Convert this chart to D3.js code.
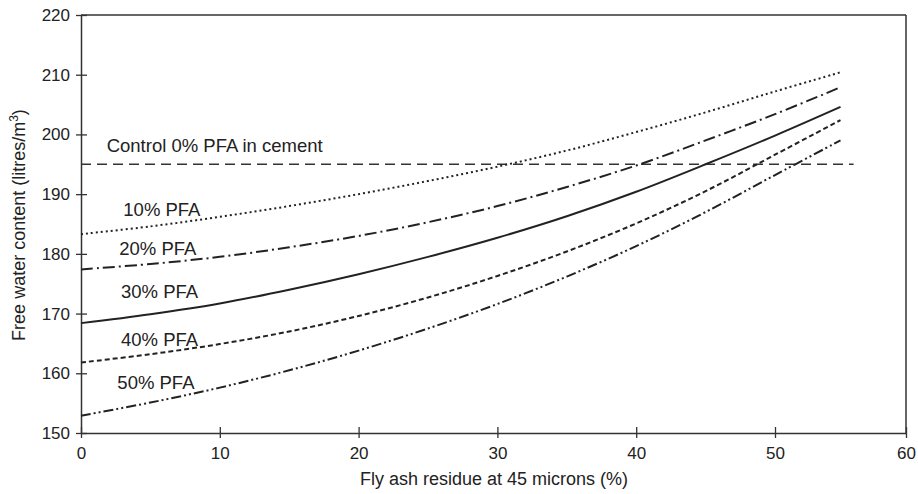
<!DOCTYPE html>
<html>
<head>
<meta charset="utf-8">
<script src="https://cdn.jsdelivr.net/npm/d3@7/dist/d3.min.js"></script>
<style>
  html, body { margin: 0; padding: 0; background: #fff; }
  svg { display: block; }
  text { font-family: "Liberation Sans", Arial, Helvetica, sans-serif; fill: #222; }
</style>
</head>
<body>
<svg id="chart" width="918" height="494"></svg>
<script>
// ---- data ----
const residue = [0, 5, 10, 15, 20, 25, 30, 35, 40, 45, 50, 55];
const pfa10 = [183.3, 184.6, 186.2, 188.0, 190.0, 192.2, 194.6, 197.3, 200.4, 203.7, 207.2, 210.4];
const pfa20 = [177.4, 178.3, 179.5, 181.1, 183.0, 185.3, 188.0, 191.2, 194.8, 199.0, 203.4, 207.9];
const pfa30 = [168.4, 169.9, 171.7, 174.0, 176.6, 179.5, 182.7, 186.3, 190.4, 195.0, 199.8, 204.6];
const pfa40 = [161.8, 163.2, 164.9, 167.0, 169.6, 172.7, 176.3, 180.4, 185.1, 190.5, 196.6, 202.4];
const pfa50 = [152.9, 155.1, 157.6, 160.5, 163.8, 167.5, 171.6, 176.2, 181.3, 187.0, 193.2, 199.0];
const seriesNames = ["10% PFA", "20% PFA", "30% PFA", "40% PFA", "50% PFA"];
const controlValue = 195;
const controlExtent = [0, 56];
const controlLabel = "Control 0% PFA in cement";
const xTicks = [0, 10, 20, 30, 40, 50, 60];
const yTicks = [150, 160, 170, 180, 190, 200, 210, 220];
const xTitle = "Fly ash residue at 45 microns (%)";
const yTitle = "Free water content (litres/m";

// ---- layout / styles ----
const svg = d3.select("#chart");
const mLeft = 81, mRight = 906, mTop = 15, mBottom = 433;
const ink = "#222";

const x = d3.scaleLinear().domain([0, 50, 60]).range([mLeft, 775, mRight]);
const y = d3.scaleLinear().domain([150, 220]).range([mBottom, mTop]);

const dashes = ["2,3", "12,4,2,4", null, "5,3", "10,3,2,3,2,3"];
// label anchors in data units [x, y-baseline]
const labelPos = [[3.05, 186.3], [2.76, 179.8], [2.88, 172.55], [2.88, 164.5], [2.62, 157.45]];

// frame (top & right)
svg.append("line").attr("x1", mLeft).attr("x2", mRight).attr("y1", mTop).attr("y2", mTop)
  .attr("stroke", "#333").attr("stroke-width", 1.5);
svg.append("line").attr("x1", mRight).attr("x2", mRight).attr("y1", mTop).attr("y2", mBottom)
  .attr("stroke", "#333").attr("stroke-width", 1.5);

// axes
const xAxis = d3.axisBottom(x).tickValues(xTicks).tickSizeInner(5).tickSizeOuter(0).tickPadding(9).tickFormat(d3.format("d"));
const gx = svg.append("g").attr("transform", `translate(0,${mBottom})`).call(xAxis);
gx.selectAll(".tick line").attr("y1", -6).attr("stroke", "#333").attr("stroke-width", 1.3);
gx.select(".domain").attr("stroke", "#333").attr("stroke-width", 1.5);
gx.selectAll("text").style("font-size", "17px").attr("fill", ink);

const yAxis = d3.axisLeft(y).tickValues(yTicks).tickSizeInner(5).tickSizeOuter(0).tickPadding(6).tickFormat(d3.format("d"));
const gy = svg.append("g").attr("transform", `translate(${mLeft},0)`).call(yAxis);
gy.selectAll(".tick line").attr("x1", 6).attr("stroke", "#333").attr("stroke-width", 1.3);
gy.select(".domain").attr("stroke", "#333").attr("stroke-width", 1.5);
gy.selectAll("text").style("font-size", "17px").attr("fill", ink);
gx.attr("font-family", null); gy.attr("font-family", null);

// control line
svg.append("line")
  .attr("x1", x(controlExtent[0])).attr("x2", x(controlExtent[1]))
  .attr("y1", y(controlValue)).attr("y2", y(controlValue))
  .attr("stroke", "#333").attr("stroke-width", 1.5).attr("stroke-dasharray", "10,6");
svg.append("text").attr("x", x(1.85)).attr("y", y(197.0))
  .style("font-size", "18.5px").text(controlLabel);

// curves
const allSeries = [pfa10, pfa20, pfa30, pfa40, pfa50];
const line = d3.line().x(d => x(d[0])).y(d => y(d[1])).curve(d3.curveCatmullRom.alpha(0.5));
allSeries.forEach((vals, i) => {
  const pts = residue.map((r, j) => [r, vals[j]]);
  svg.append("path").datum(pts).attr("d", line)
    .attr("fill", "none").attr("stroke", ink).attr("stroke-width", 2)
    .attr("stroke-dasharray", dashes[i]);
  svg.append("text").attr("x", x(labelPos[i][0])).attr("y", y(labelPos[i][1]))
    .style("font-size", "18.5px").text(seriesNames[i]);
});

// titles
svg.append("text").attr("x", 494).attr("y", 485).attr("text-anchor", "middle")
  .style("font-size", "18px").text(xTitle);
const yt = svg.append("text").attr("transform", "translate(25,225) rotate(-90)")
  .attr("text-anchor", "middle").style("font-size", "18px");
yt.append("tspan").text(yTitle);
yt.append("tspan").attr("dy", -7).style("font-size", "12px").text("3");
yt.append("tspan").attr("dy", 7).text(")");
</script>
</body>
</html>
